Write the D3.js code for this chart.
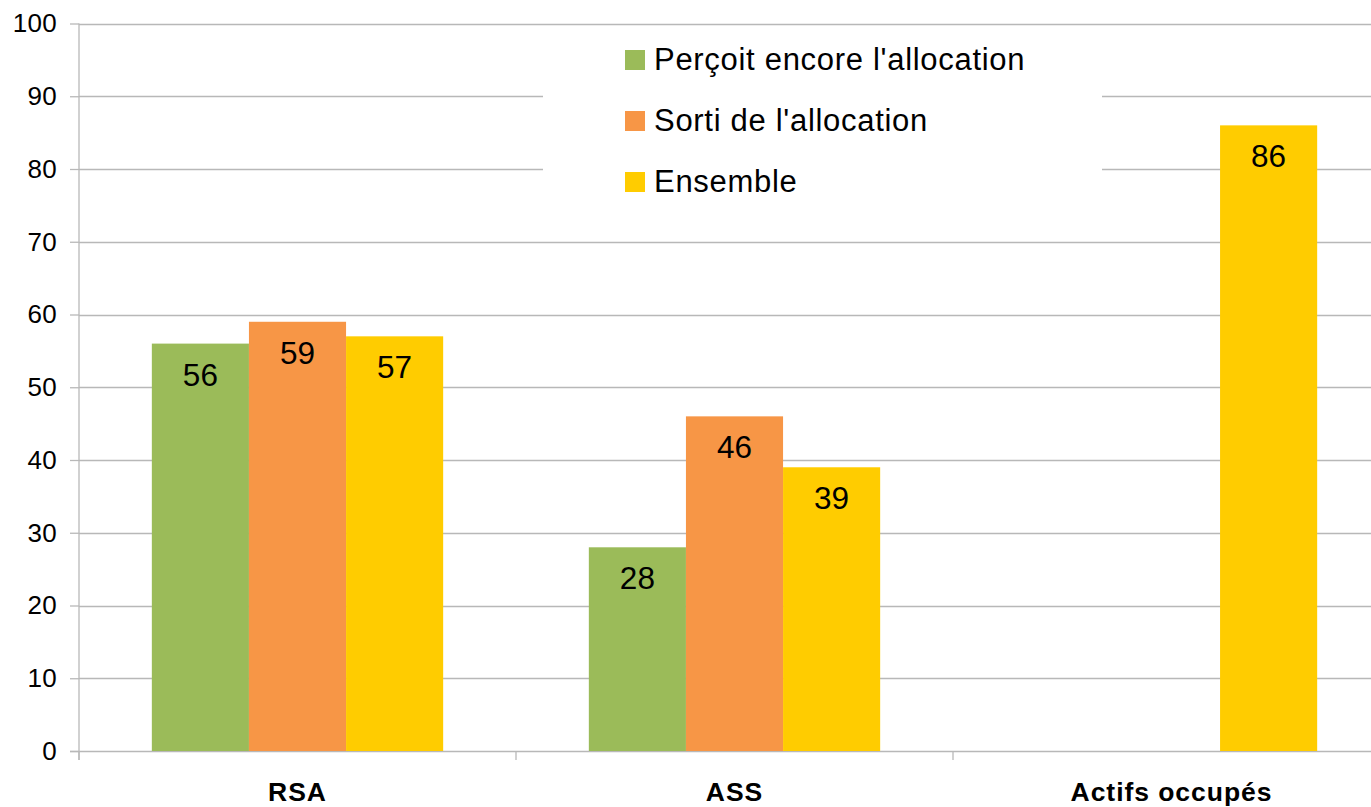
<!DOCTYPE html>
<html>
<head>
<meta charset="utf-8">
<script src="https://cdn.jsdelivr.net/npm/d3@7"></script>
<style>
  html, body { margin: 0; padding: 0; background: #fff; }
  svg { display: block; font-family: "Liberation Sans", Arial, sans-serif; }
</style>
</head>
<body>
<svg id="chart" width="1371" height="807"></svg>
<script>
const categories = ["RSA", "ASS", "Actifs occupés"];
const seriesNames = ["Perçoit encore l'allocation", "Sorti de l'allocation", "Ensemble"];
const percoit = [56, 28, null];
const sorti = [59, 46, null];
const ensemble = [57, 39, 86];
const yTicks = [0, 10, 20, 30, 40, 50, 60, 70, 80, 90, 100];
const colors = ["#9BBB59", "#F79646", "#FFCC00"];

(function () {
const seriesValues = [percoit, sorti, ensemble];

const svg = d3.select("#chart");
const pLeft = 79, pRight = 1390, pTop = 23.5, pBottom = 751;

const x = d3.scaleBand().domain(categories).range([pLeft, pRight]).paddingInner(0).paddingOuter(0);
const xs = d3.scaleBand().domain(seriesNames).range([0, x.bandwidth()]).paddingInner(0).paddingOuter(0.75);
const y = d3.scaleLinear().domain([0, 100]).range([pBottom, pTop]);

const gridColor = "#b8b8b8";

// Gridlines
svg.append("g").selectAll("line").data(yTicks.filter(d => d > 0)).join("line")
  .attr("x1", pLeft).attr("x2", pRight)
  .attr("y1", d => Math.round(y(d)) + 0.5).attr("y2", d => Math.round(y(d)) + 0.5)
  .attr("stroke", gridColor).attr("stroke-width", 1.3);

// Legend background (white box covering gridlines)
svg.append("rect").attr("x", 543).attr("y", 30).attr("width", 559).attr("height", 175).attr("fill", "#fff");

// Y axis
const yAxis = d3.axisLeft(y).tickValues(yTicks).tickSize(9).tickPadding(13).tickFormat(d3.format("d"));
const gy = svg.append("g").attr("transform", `translate(${pLeft},0)`).call(yAxis);
gy.select(".domain").remove();
gy.selectAll(".tick line").attr("stroke", gridColor).attr("stroke-width", 1.3);
gy.selectAll(".tick text").attr("font-size", 26).attr("fill", "#000").attr("letter-spacing", 0.3)
  .attr("font-family", "'Liberation Sans', Arial, sans-serif");
gy.append("line").attr("x1", 0).attr("x2", 0).attr("y1", pTop).attr("y2", pBottom + 9)
  .attr("stroke", gridColor).attr("stroke-width", 1.3);

// X axis baseline and category ticks
svg.append("line").attr("x1", pLeft - 9).attr("x2", pRight).attr("y1", pBottom + 0.5).attr("y2", pBottom + 0.5)
  .attr("stroke", gridColor).attr("stroke-width", 1.6);
const boundaries = categories.map(c => x(c)).concat([x(categories[categories.length - 1]) + x.bandwidth()]);
svg.append("g").selectAll("line").data(boundaries).join("line")
  .attr("x1", d => d).attr("x2", d => d).attr("y1", pBottom).attr("y2", pBottom + 9)
  .attr("stroke", gridColor).attr("stroke-width", 1.3);

// Category labels
svg.append("g").selectAll("text").data(categories).join("text")
  .attr("x", d => x(d) + x.bandwidth() / 2).attr("y", 801)
  .attr("text-anchor", "middle").attr("font-size", 26.5).attr("font-weight", "bold").attr("fill", "#000")
  .attr("letter-spacing", 0.95)
  .text(d => d);

// Bars
const barData = [];
categories.forEach((c, ci) => {
  seriesNames.forEach((s, si) => {
    const v = seriesValues[si][ci];
    if (v !== null && v !== undefined) barData.push({ c, s, si, v });
  });
});

svg.append("g").selectAll("rect").data(barData).join("rect")
  .attr("x", d => x(d.c) + xs(d.s)).attr("width", xs.bandwidth())
  .attr("y", d => y(d.v)).attr("height", d => y(0) - y(d.v))
  .attr("fill", d => colors[d.si]);

svg.append("g").selectAll("text").data(barData).join("text")
  .attr("x", d => x(d.c) + xs(d.s) + xs.bandwidth() / 2)
  .attr("y", d => y(d.v) + 42)
  .attr("text-anchor", "middle").attr("font-size", 31.5).attr("fill", "#000")
  .text(d => d.v);

// Legend
const lg = svg.append("g");
seriesNames.forEach((s, i) => {
  const yy = 50 + i * 61;
  lg.append("rect").attr("x", 625).attr("y", yy).attr("width", 20).attr("height", 20).attr("fill", colors[i]);
  lg.append("text").attr("x", 654).attr("y", yy + 20).attr("font-size", 31).attr("letter-spacing", 0.7)
    .attr("fill", "#000").text(s);
});
})();
</script>
</body>
</html>
